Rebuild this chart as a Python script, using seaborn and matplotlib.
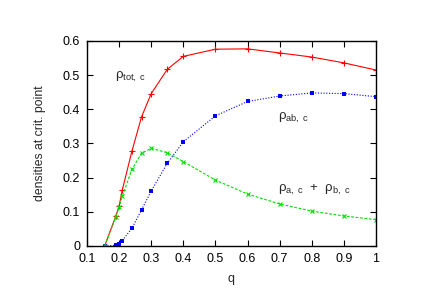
import matplotlib
matplotlib.use("Agg")
import matplotlib.pyplot as plt
import seaborn as sns
import pandas as pd

# values
q = [0.155, 0.19, 0.2, 0.21, 0.24, 0.27, 0.3, 0.35, 0.4,
     0.5, 0.6, 0.7, 0.8, 0.9, 1.0]
rho_tot = [0.0, 0.088, 0.117, 0.164, 0.278, 0.378, 0.446, 0.517, 0.555,
           0.576, 0.577, 0.565, 0.553, 0.536, 0.515]
rho_ab = [0.0, 0.002, 0.006, 0.016, 0.052, 0.106, 0.161, 0.242, 0.305,
          0.381, 0.423, 0.439, 0.448, 0.446, 0.437]
rho_a_b = [0.0, 0.085, 0.113, 0.146, 0.224, 0.272, 0.286, 0.273, 0.247,
           0.193, 0.152, 0.123, 0.102, 0.088, 0.077]

xticks = [0.1, 0.2, 0.3, 0.4, 0.5, 0.6, 0.7, 0.8, 0.9, 1]
xticklabels = ["0.1", "0.2", "0.3", "0.4", "0.5", "0.6", "0.7", "0.8", "0.9", "1"]
yticks = [0, 0.1, 0.2, 0.3, 0.4, 0.5, 0.6]
yticklabels = ["0", "0.1", "0.2", "0.3", "0.4", "0.5", "0.6"]

df = pd.DataFrame({"q": q, "tot": rho_tot, "ab": rho_ab, "a_b": rho_a_b})

sns.set_style("ticks")
plt.rcParams["font.family"] = ["Liberation Sans", "DejaVu Sans"]
plt.rcParams["mathtext.fontset"] = "custom"
plt.rcParams["mathtext.rm"] = "Liberation Sans"
plt.rcParams["mathtext.it"] = "Liberation Sans"

fig = plt.figure(figsize=(4.36, 3.08), dpi=100)
ax = fig.add_axes([0.1995, 0.2013, 0.6629, 0.6656])

sns.lineplot(data=df, x="q", y="tot", ax=ax, color="#ff0000", lw=0.8,
             marker="+", markersize=4, markeredgewidth=0.8, markeredgecolor="#ff0000")
sns.lineplot(data=df, x="q", y="ab", ax=ax, color="#0000ff", lw=0.8,
             linestyle=(0, (1, 1.5)), marker="s", markersize=2.5,
             markeredgewidth=0, markerfacecolor="#0000ff")
sns.lineplot(data=df, x="q", y="a_b", ax=ax, color="#00e000", lw=0.8,
             linestyle=(0, (2.5, 1.5)), marker="x", markersize=3.5,
             markeredgewidth=0.8, markeredgecolor="#00e000")

ax.set_xlim(0.1, 1.0)
ax.set_ylim(0, 0.6)
ax.set_xticks(xticks)
ax.set_xticklabels(xticklabels)
ax.set_yticks(yticks)
ax.set_yticklabels(yticklabels)
ax.tick_params(direction="in", top=True, right=True, length=4, width=0.8,
               labelsize=9, pad=5, colors="black")
for s in ax.spines.values():
    s.set_linewidth(1.0)
    s.set_color("black")

ax.set_xlabel("q", fontsize=9, labelpad=6)
ax.set_ylabel("densities at crit. point", fontsize=8.8, labelpad=12)

ax.text(0.186, 0.494, r"ρ$_{\mathrm{tot,\ c}}$", fontsize=9.5, va="center")
ax.text(0.695, 0.374, r"ρ$_{\mathrm{ab,\ c}}$", fontsize=9.5, va="center")
ax.text(0.695, 0.164, r"ρ$_{\mathrm{a,\ c}}$  +  ρ$_{\mathrm{b,\ c}}$", fontsize=9.5, va="center")

fig.savefig("out.png", dpi=100)
